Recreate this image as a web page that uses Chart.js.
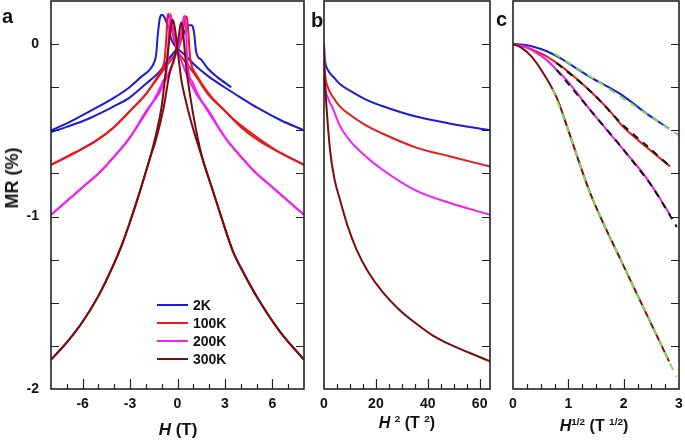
<!DOCTYPE html>
<html>
<head>
<meta charset="utf-8">
<script src="https://cdn.jsdelivr.net/npm/chart.js@4.4.1/dist/chart.umd.min.js"></script>
<style>
  body { margin: 0; width: 685px; height: 440px; background: #fff; position: relative; overflow: hidden;
         font-family: "Liberation Sans", Arial, sans-serif; font-weight: bold; color: #111; }
  canvas { position: absolute; top: 0; }
  .lbl { position: absolute; white-space: nowrap; line-height: 1; }
  .lbl sup { font-size: 0.62em; vertical-align: 0.6em; line-height: 0; }
</style>
</head>
<body>
<canvas id="panelA" width="310" height="440" style="left:0"></canvas>
<canvas id="panelB" width="185" height="440" style="left:310px"></canvas>
<canvas id="panelC" width="190" height="440" style="left:495px"></canvas>

<div class="lbl" style="left:2px;top:6px;font-size:20px">a</div>
<div class="lbl" style="left:311px;top:10px;font-size:20px">b</div>
<div class="lbl" style="left:496px;top:9px;font-size:20px">c</div>
<div class="lbl" style="left:12px;top:178px;font-size:18px;transform:translate(-50%,-50%) rotate(-90deg)">MR (%)</div>
<div class="lbl" style="left:178px;top:421px;font-size:17px;transform:translateX(-50%)"><i>H</i> (T)</div>
<div class="lbl" style="left:407px;top:415px;font-size:16px;transform:translateX(-50%)"><i>H</i> <sup>2</sup> (T <sup>2</sup>)</div>
<div class="lbl" style="left:594px;top:418px;font-size:16px;transform:translateX(-50%)"><i>H</i><sup>1/2</sup> (T <sup>1/2</sup>)</div>

<script>
// Etiquetas y ticks
const temps = ['2K', '100K', '200K', '300K'];
const colores = ['#1c1cd8', '#e81a1a', '#f020f0', '#7a0c0c'];
const ticksA = [-6, -3, 0, 3, 6];
const ticksB = [0, 20, 40, 60];
const ticksC = [0, 1, 2, 3];
const ticksY = [0, -1, -2];

// Panel a: MR vs H, dos ramas (barrido) por temperatura
const a2K_down = [[-8,-0.50],[-7,-0.46],[-5.56,-0.39],[-4,-0.31],[-3.03,-0.25],[-2.3,-0.19],[-1.77,-0.15],[-1.45,-0.10],[-1.35,-0.06],[-1.25,0.05],[-1.12,0.15],[-0.98,0.17],[-0.9,0.165],[-0.8,0.15],[-0.6,0.10],[-0.4,0.03],[-0.2,-0.005],[0,-0.025],[0.55,-0.07],[1.07,-0.12],[2,-0.19],[2.97,-0.25],[4,-0.31],[5.07,-0.37],[6.5,-0.44],[8,-0.50]];
const a2K_up = [[-8,-0.51],[-7,-0.48],[-5.56,-0.43],[-4,-0.36],[-3.03,-0.31],[-2,-0.23],[-1.14,-0.16],[-0.5,-0.08],[0,-0.02],[0.3,0.04],[0.55,0.09],[0.7,0.11],[0.9,0.11],[1.0,0.09],[1.07,0.05],[1.12,0.0],[1.18,-0.045],[1.3,-0.075],[1.5,-0.09],[1.9,-0.14],[2.5,-0.19],[3.4,-0.25]];
const a100K_down = [[-8,-0.70],[-6.5,-0.63],[-5.14,-0.56],[-4,-0.48],[-3.03,-0.39],[-2,-0.29],[-1.14,-0.17],[-0.95,-0.14],[-0.8,-0.08],[-0.7,0.05],[-0.64,0.15],[-0.58,0.175],[-0.5,0.15],[-0.35,0.08],[-0.18,0.01],[0,-0.04],[0.3,-0.08],[0.65,-0.12],[1.2,-0.19],[1.92,-0.29],[2.8,-0.37],[3.6,-0.44],[5.18,-0.55],[6.5,-0.63],[8,-0.70]];
const a100K_up = [[-8,-0.70],[-6.5,-0.63],[-5.14,-0.56],[-4,-0.48],[-3.03,-0.39],[-2,-0.29],[-1.2,-0.19],[-0.65,-0.12],[-0.3,-0.08],[0,-0.04],[0.18,0.01],[0.35,0.08],[0.48,0.15],[0.55,0.16],[0.62,0.14],[0.7,0.05],[0.8,-0.08],[0.95,-0.14],[1.14,-0.17],[2,-0.29],[3.03,-0.39],[4,-0.48],[5.14,-0.56],[6.5,-0.63],[8,-0.70]];
const a200K_down = [[-8,-0.99],[-7,-0.91],[-6,-0.83],[-4.76,-0.73],[-4.08,-0.66],[-3.16,-0.56],[-2,-0.40],[-1.4,-0.31],[-0.95,-0.22],[-0.7,-0.16],[-0.6,-0.05],[-0.53,0.1],[-0.46,0.175],[-0.38,0.15],[-0.25,0.07],[-0.1,0.0],[0,-0.03],[0.3,-0.11],[0.65,-0.19],[1.2,-0.29],[1.92,-0.38],[3.07,-0.55],[4.08,-0.66],[5,-0.75],[6,-0.83],[7,-0.91],[8,-0.99]];
const a200K_up = [[-8,-0.99],[-7,-0.91],[-6,-0.83],[-5,-0.75],[-4.08,-0.66],[-3.07,-0.55],[-1.92,-0.38],[-1.2,-0.29],[-0.65,-0.19],[-0.3,-0.11],[0,-0.03],[0.1,0.0],[0.25,0.07],[0.38,0.15],[0.46,0.165],[0.53,0.1],[0.6,-0.05],[0.7,-0.16],[0.95,-0.22],[1.4,-0.31],[2,-0.40],[3.16,-0.56],[4.08,-0.66],[4.76,-0.73],[6,-0.83],[7,-0.91],[8,-0.99]];
const a300K_down = [[-8,-1.83],[-7,-1.73],[-6,-1.61],[-5,-1.46],[-4,-1.27],[-3.5,-1.16],[-3,-1.03],[-2.5,-0.89],[-2,-0.74],[-1.77,-0.67],[-1.35,-0.52],[-1.0,-0.36],[-0.71,-0.13],[-0.5,0.04],[-0.38,0.12],[-0.3,0.14],[-0.22,0.12],[-0.1,0.05],[0,-0.03],[0.12,-0.12],[0.23,-0.20],[0.5,-0.32],[0.8,-0.43],[1.18,-0.55],[1.6,-0.67],[2.2,-0.84],[2.76,-1.0],[3.5,-1.20],[4.2,-1.33],[5.18,-1.49],[6.5,-1.67],[8,-1.83]];
const a300K_up = [[-8,-1.83],[-7,-1.73],[-6,-1.61],[-5,-1.46],[-4,-1.27],[-3.5,-1.16],[-3,-1.03],[-2.5,-0.89],[-2,-0.74],[-1.77,-0.67],[-1.35,-0.55],[-0.9,-0.38],[-0.5,-0.17],[-0.25,-0.10],[-0.1,-0.04],[0,0.0],[0.1,0.06],[0.18,0.11],[0.25,0.125],[0.33,0.09],[0.45,-0.03],[0.55,-0.13],[0.8,-0.30],[1.18,-0.50],[1.6,-0.67],[2.2,-0.84],[2.76,-1.0],[3.5,-1.20],[4.2,-1.33],[5.18,-1.49],[6.5,-1.67],[8,-1.83]];

// Panel b: MR vs H^2
const b2K = [[0,0],[0.1,-0.05],[0.4,-0.10],[1.5,-0.15],[3.6,-0.19],[6,-0.23],[10,-0.27],[16,-0.32],[22.7,-0.36],[35.5,-0.42],[48.3,-0.46],[64,-0.50]];
const b100K = [[0,0],[0.1,-0.08],[0.4,-0.17],[1.5,-0.25],[3.6,-0.31],[6,-0.36],[10,-0.41],[16,-0.47],[22.7,-0.52],[35.5,-0.60],[48.3,-0.65],[64,-0.71]];
const b200K = [[0,0],[0.1,-0.10],[0.4,-0.23],[1.5,-0.31],[3.6,-0.38],[6,-0.47],[10,-0.56],[16,-0.65],[22.7,-0.73],[35.5,-0.85],[48.3,-0.92],[64,-0.99]];
const b300K = [[0,0],[0.05,-0.08],[0.25,-0.18],[0.77,-0.32],[2.3,-0.61],[4,-0.78],[6.1,-0.90],[9,-1.05],[12.5,-1.19],[17,-1.32],[22.7,-1.44],[29,-1.54],[35.5,-1.62],[42,-1.69],[48.3,-1.74],[56,-1.79],[64,-1.84]];

// Panel c: MR vs H^1/2 y ajustes
const c2K = [[0,0],[0.2,-0.003],[0.37,-0.015],[0.6,-0.04],[0.79,-0.07],[1.0,-0.11],[1.39,-0.19],[1.99,-0.30],[2.4,-0.40],[2.82,-0.49]];
const c100K = [[0,0],[0.2,-0.012],[0.37,-0.035],[0.6,-0.07],[0.79,-0.11],[1.0,-0.16],[1.39,-0.27],[1.7,-0.37],[1.99,-0.48],[2.2,-0.54],[2.42,-0.60],[2.84,-0.71]];
const c200K = [[0,0],[0.2,-0.015],[0.37,-0.04],[0.6,-0.09],[0.79,-0.15],[1.0,-0.22],[1.39,-0.38],[1.99,-0.61],[2.42,-0.78],[2.84,-0.99]];
const c300K = [[0,0],[0.15,-0.02],[0.34,-0.074],[0.55,-0.17],[0.79,-0.31],[1.0,-0.50],[1.39,-0.86],[1.99,-1.28],[2.42,-1.57],[2.82,-1.84]];
const fit2K = [[0.75,-0.055],[1.5,-0.21],[2.25,-0.37],[3.0,-0.53]];
const fit100K = [[0.79,-0.11],[1.39,-0.27],[1.99,-0.47],[2.42,-0.59],[2.84,-0.71]];
const fit200K = [[0.79,-0.15],[1.39,-0.38],[1.99,-0.61],[2.5,-0.82],[2.96,-1.06]];
const fit300K = [[0.72,-0.26],[1.0,-0.50],[1.39,-0.86],[1.99,-1.28],[2.42,-1.57],[2.82,-1.84],[2.95,-1.93]];

Chart.defaults.font.family = '"Liberation Sans", Arial, sans-serif';
Chart.defaults.color = '#111';

function serie(pares, color, orden, etiqueta) {
    return {
        label: etiqueta || '',
        data: pares.map(p => ({x: p[0], y: p[1]})),
        showLine: true,
        borderColor: color,
        borderWidth: 2,
        pointRadius: 0,
        fill: false,
        cubicInterpolationMode: 'monotone',
        order: orden
    };
}

function ajuste(pares, color) {
    const s = serie(pares, color, 0);
    s.borderDash = [7, 6];
    s.cubicInterpolationMode = 'default';
    s.tension = 0.3;
    return s;
}

// Marco y ticks hacia adentro
const marcoTicks = {
    id: 'marcoTicks',
    afterDatasetsDraw(chart, args, opts) {
        const {ctx, chartArea: {left, right, top, bottom}, scales: {x, y}} = chart;
        ctx.save();
        ctx.strokeStyle = '#222';
        ctx.lineWidth = 1.2;
        ctx.beginPath();
        for (let v = -2; v <= 0.001; v += 0.25) {
            const py = Math.round(y.getPixelForValue(v)) + 0.5;
            if (py >= bottom - 1) continue;
            if (opts.izquierda) { ctx.moveTo(left, py); ctx.lineTo(left + 8, py); }
            ctx.moveTo(right, py); ctx.lineTo(right - 8, py);
        }
        const n = Math.round((x.max - x.min) / opts.paso);
        for (let i = 1; i < n; i++) {
            const v = x.min + i * opts.paso;
            const px = Math.round(x.getPixelForValue(v)) + 0.5;
            const mayor = Math.abs(v / opts.mayor - Math.round(v / opts.mayor)) < 1e-6;
            ctx.moveTo(px, bottom);
            ctx.lineTo(px, bottom - (mayor ? 10 : 5));
        }
        ctx.stroke();
        ctx.lineWidth = 1.6;
        ctx.strokeRect(left, top, right - left, bottom - top);
        ctx.restore();
    }
};

// Leyenda dentro del panel a
const leyenda = {
    id: 'leyenda',
    afterDatasetsDraw(chart) {
        const ctx = chart.ctx;
        ctx.save();
        ctx.font = 'bold 14px "Liberation Sans", Arial, sans-serif';
        ctx.textBaseline = 'middle';
        ctx.lineWidth = 2;
        let fila = 0;
        chart.data.datasets.forEach(ds => {
            if (!ds.label) return;
            const yy = 305 + fila * 18;
            ctx.strokeStyle = ds.borderColor;
            ctx.beginPath();
            ctx.moveTo(157, yy);
            ctx.lineTo(188, yy);
            ctx.stroke();
            ctx.fillStyle = '#111';
            ctx.fillText(ds.label, 193, yy + 1);
            fila++;
        });
        ctx.restore();
    }
};

function crearPanel(id, datasets, xMin, xMax, xTicks, paso, mayor, conY, padding, extras) {
    return new Chart(document.getElementById(id), {
        type: 'scatter',
        data: {datasets: datasets},
        options: {
            responsive: false,
            animation: false,
            devicePixelRatio: 1,
            layout: {padding: padding},
            plugins: {
                legend: {display: false},
                tooltip: {enabled: false},
                marcoTicks: {paso: paso, mayor: mayor, izquierda: conY}
            },
            scales: {
                x: {
                    type: 'linear',
                    min: xMin,
                    max: xMax,
                    grid: {display: false, drawTicks: false},
                    border: {display: false},
                    afterBuildTicks: s => { s.ticks = xTicks.map(v => ({value: v})); },
                    afterFit: s => { s.height = 51; s.paddingLeft = 0; s.paddingRight = 0; },
                    ticks: {padding: 7, maxRotation: 0, autoSkip: false, font: {size: 14, weight: 'bold'}}
                },
                y: {
                    type: 'linear',
                    display: conY,
                    min: -2,
                    max: 0.25,
                    grid: {display: false, drawTicks: false},
                    border: {display: false},
                    afterBuildTicks: s => { s.ticks = ticksY.map(v => ({value: v})); },
                    afterFit: s => { s.width = conY ? 51 : 0; s.paddingTop = 0; s.paddingBottom = 0; },
                    ticks: {padding: 12, font: {size: 14, weight: 'bold'}}
                }
            }
        },
        plugins: [marcoTicks].concat(extras || [])
    });
}

const ramasA = [[a2K_down, a2K_up], [a100K_down, a100K_up], [a200K_down, a200K_up], [a300K_down, a300K_up]];
const datosA = [];
ramasA.forEach((r, i) => {
    datosA.push(serie(r[0], colores[i], 4 - i, temps[i]));
    datosA.push(serie(r[1], colores[i], 4 - i));
});

const datosB = [b2K, b100K, b200K, b300K].map((d, i) => serie(d, colores[i], 4 - i));

const datosC = [c2K, c100K, c200K, c300K].map((d, i) => serie(d, colores[i], 4 - i));
datosC.push(ajuste(fit2K, '#7ddc5a'));
datosC.push(ajuste(fit100K, '#111111'));
datosC.push(ajuste(fit200K, '#111111'));
datosC.push(ajuste(fit300K, '#7ddc5a'));

crearPanel('panelA', datosA, -8, 8, ticksA, 1, 3, true, {left: 0, right: 6, top: 1, bottom: 0}, [leyenda]);
crearPanel('panelB', datosB, 0, 64, ticksB, 5, 20, false, {left: 14, right: 5, top: 1, bottom: 0});
crearPanel('panelC', datosC, 0, 3, ticksC, 0.25, 1, false, {left: 18, right: 6, top: 1, bottom: 0});
</script>
</body>
</html>
